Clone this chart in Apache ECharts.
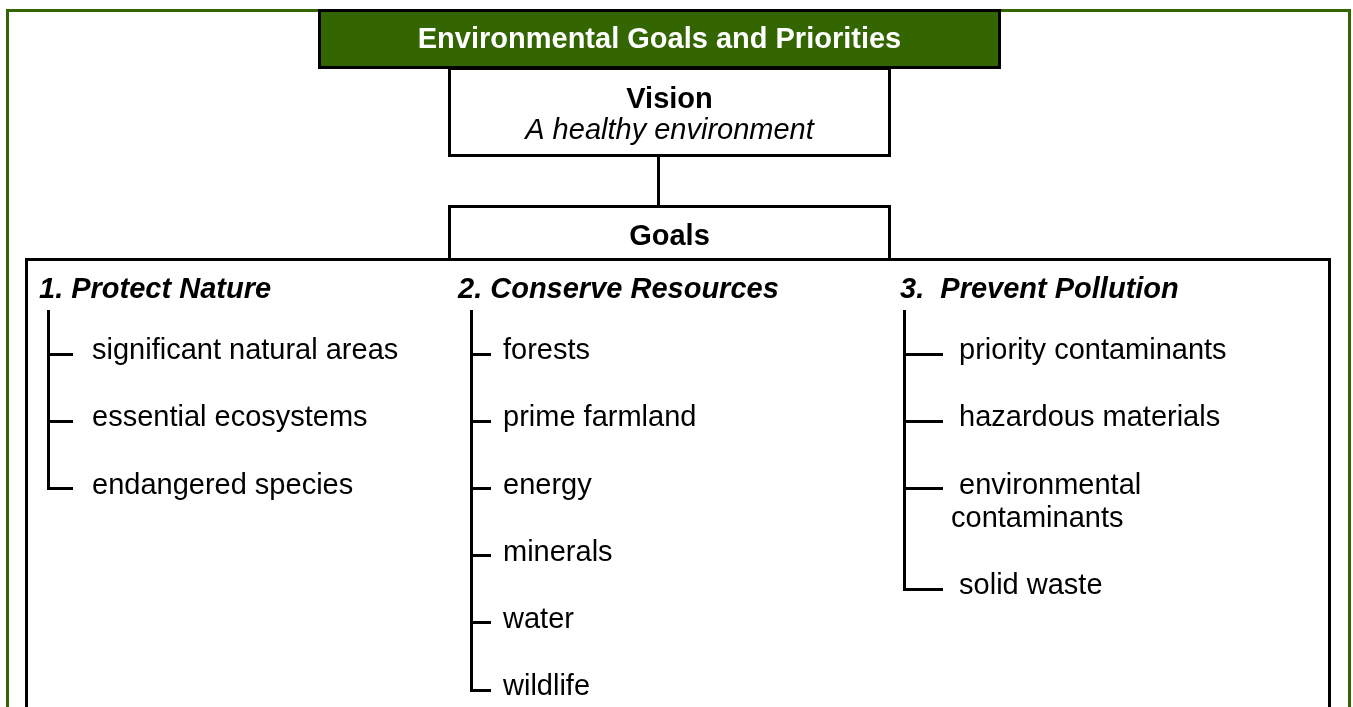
<!DOCTYPE html>
<html>
<head>
<meta charset="utf-8">
<script src="https://cdn.jsdelivr.net/npm/echarts@6/dist/echarts.min.js"></script>
<style>
  html, body { margin: 0; padding: 0; background: #ffffff; }
  #chart { width: 1353px; height: 707px; }
</style>
</head>
<body>
<div id="chart"></div>
<script>
// ---- data ----
const titleText = 'Environmental Goals and Priorities';
const visionLabel = 'Vision';
const visionText = 'A healthy environment';
const goalsLabel = 'Goals';
const goalHeadings = ['1. Protect Nature', '2. Conserve Resources', '3.  Prevent Pollution'];
const protectNature = ['significant natural areas', 'essential ecosystems', 'endangered species'];
const conserveResources = ['forests', 'prime farmland', 'energy', 'minerals', 'water', 'wildlife'];
const preventPollution = [' priority contaminants', ' hazardous materials', ' environmental\ncontaminants', ' solid waste'];
const goalItems = [protectNature, conserveResources, preventPollution];

// ---- layout ----
const FONT = '"Liberation Sans", Arial, Helvetica, sans-serif';
const GREEN = '#336600';
const FS = 29;
const TY = 3; // vertical text offset
const els = [];

function rect(x, y, w, h, stroke, fill) {
  els.push({ type: 'rect', silent: true, shape: { x: x, y: y, width: w, height: h },
    style: { fill: fill || 'none', stroke: stroke, lineWidth: 3 } });
}
function seg(x1, y1, x2, y2) {
  els.push({ type: 'line', silent: true, shape: { x1: x1, y1: y1, x2: x2, y2: y2 },
    style: { stroke: '#000', lineWidth: 3, lineCap: 'butt' } });
}
function txt(str, x, y, o) {
  o = o || {};
  els.push({ type: 'text', silent: true, x: x, y: y + TY,
    style: { text: str, fill: o.fill || '#000', fontSize: FS, fontFamily: FONT,
      fontWeight: o.weight || 'normal', fontStyle: o.style || 'normal',
      align: o.align || 'left', verticalAlign: 'middle' } });
}

// outer green frame
rect(7.5, 10.5, 1342, 800, GREEN);
// big goals box
rect(26.5, 259.5, 1303, 600, '#000');
// Goals box
rect(449.5, 206.5, 440, 53, '#000', '#fff');
// Vision box
rect(449.5, 68.5, 440, 87, '#000', '#fff');
// Title box
rect(319.5, 10.5, 680, 57, '#000', GREEN);
// connector
seg(658.5, 157, 658.5, 205);

const CX = 669.5;
txt(titleText, 659.5, 36.5, { fill: '#fff', weight: 'bold', align: 'center' });
txt(visionLabel, CX, 97, { weight: 'bold', align: 'center' });
txt(visionText, CX, 128, { style: 'italic', align: 'center' });
txt(goalsLabel, CX, 234, { weight: 'bold', align: 'center' });

const cols = [
  { head: 39, tree: 48.5, branch: 73, text: 92 },
  { head: 458, tree: 471.5, branch: 491, text: 503 },
  { head: 900, tree: 904.5, branch: 943, text: 951 }
];
const base0 = 358.5, pitch = 33.6;

goalHeadings.forEach(function (h, gi) {
  const c = cols[gi];
  txt(h, c.head, 286.5, { weight: 'bold', style: 'italic' });
  let lineIdx = 0, lastBranch = 0;
  goalItems[gi].forEach(function (item) {
    const lines = item.split('\n');
    const by = Math.round(base0 + pitch * lineIdx - 5) + 0.5;
    seg(c.tree, by, c.branch, by);
    lastBranch = by;
    lines.forEach(function (ln, li) {
      txt(ln, c.text, base0 + pitch * (lineIdx + li) - 10.4);
    });
    lineIdx += lines.length + 1;
  });
  seg(c.tree, 310, c.tree, lastBranch + 1.5);
});

const chart = echarts.init(document.getElementById('chart'), null, { renderer: 'canvas' });
chart.setOption({
  backgroundColor: '#ffffff',
  animation: false,
  graphic: { elements: els }
});
</script>
</body>
</html>
